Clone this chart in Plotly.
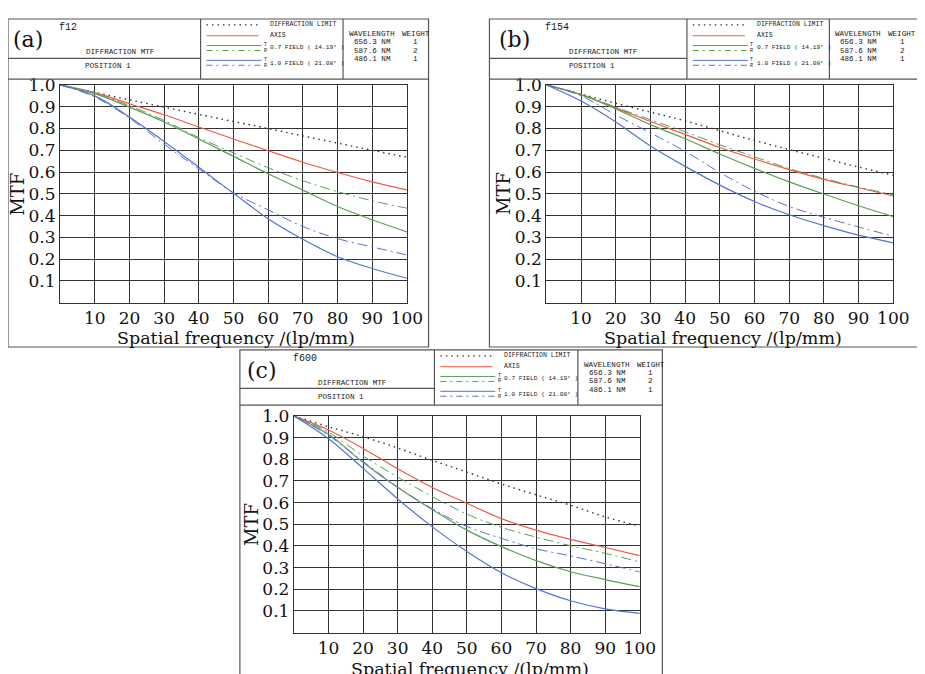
import plotly.graph_objects as go

# ---------------- data ----------------
freq = [0, 10, 20, 30, 40, 50, 60, 70, 80, 90, 100]

# panel (a) f12
a_diff = [1.0, 0.966, 0.932, 0.898, 0.865, 0.832, 0.800, 0.766, 0.733, 0.700, 0.668]
a_axis = [1.0, 0.965, 0.914, 0.863, 0.807, 0.752, 0.698, 0.645, 0.598, 0.555, 0.518]
a_07T = [1.0, 0.960, 0.898, 0.830, 0.752, 0.672, 0.592, 0.517, 0.442, 0.381, 0.325]
a_07S = [1.0, 0.962, 0.905, 0.837, 0.758, 0.688, 0.620, 0.560, 0.510, 0.468, 0.434]
a_10T = [1.0, 0.950, 0.853, 0.740, 0.622, 0.502, 0.386, 0.291, 0.211, 0.157, 0.112]
a_10S = [1.0, 0.945, 0.848, 0.728, 0.615, 0.505, 0.426, 0.350, 0.294, 0.256, 0.219]

# panel (b) f154
b_diff = [1.0, 0.958, 0.916, 0.875, 0.835, 0.790, 0.745, 0.703, 0.663, 0.623, 0.585]
b_axis = [1.0, 0.955, 0.895, 0.832, 0.773, 0.713, 0.660, 0.611, 0.566, 0.528, 0.490]
b_07T = [1.0, 0.955, 0.890, 0.818, 0.753, 0.683, 0.617, 0.555, 0.499, 0.445, 0.395]
b_07S = [1.0, 0.958, 0.898, 0.840, 0.785, 0.725, 0.670, 0.616, 0.571, 0.531, 0.496]
b_10T = [1.0, 0.926, 0.830, 0.720, 0.626, 0.540, 0.465, 0.404, 0.354, 0.310, 0.275]
b_10S = [1.0, 0.950, 0.862, 0.780, 0.695, 0.598, 0.512, 0.442, 0.392, 0.348, 0.305]

# panel (c) f600
c_diff = [1.0, 0.950, 0.904, 0.852, 0.795, 0.741, 0.686, 0.636, 0.588, 0.534, 0.491]
c_axis = [1.0, 0.935, 0.850, 0.756, 0.670, 0.597, 0.526, 0.473, 0.430, 0.393, 0.355]
c_07T = [1.0, 0.915, 0.785, 0.670, 0.568, 0.473, 0.397, 0.332, 0.281, 0.245, 0.212]
c_07S = [1.0, 0.925, 0.815, 0.718, 0.628, 0.547, 0.486, 0.441, 0.401, 0.366, 0.326]
c_10T = [1.0, 0.895, 0.758, 0.617, 0.488, 0.374, 0.276, 0.203, 0.147, 0.110, 0.089]
c_10S = [1.0, 0.910, 0.790, 0.672, 0.572, 0.490, 0.435, 0.387, 0.354, 0.318, 0.280]

x_ticks = [10, 20, 30, 40, 50, 60, 70, 80, 90, 100]
y_ticks = [0.1, 0.2, 0.3, 0.4, 0.5, 0.6, 0.7, 0.8, 0.9, 1.0]
y_ticktext = ["0.1", "0.2", "0.3", "0.4", "0.5", "0.6", "0.7", "0.8", "0.9", "1.0"]

panel_labels = ["(a)", "(b)", "(c)"]
lens_names = ["f12", "f154", "f600"]
wavelengths = ["656.3 NM", "587.6 NM", "486.1 NM"]
weights = ["1", "2", "1"]
series_names = ["DIFFRACTION LIMIT", "AXIS", "0.7 FIELD T", "0.7 FIELD R", "1.0 FIELD T", "1.0 FIELD R"]

panel_data = [
    [a_diff, a_axis, a_07T, a_07S, a_10T, a_10S],
    [b_diff, b_axis, b_07T, b_07S, b_10T, b_10S],
    [c_diff, c_axis, c_07T, c_07S, c_10T, c_10S],
]

# ---------------- styling ----------------
OFF = 8                     # default page body margin
W, H = 925 - OFF, 674 - OFF
RED = "#f25a45"
GREEN = "#5c9e5c"
BLUE = "#5672d8"
DOT = "#333333"
DOTDASH = "1.5px,4px"
DASHDOT = "10px,4px,2px,4px"
styles = [
    dict(color=DOT, width=1.4, dash=DOTDASH),
    dict(color=RED, width=1.2, dash="solid"),
    dict(color=GREEN, width=1.2, dash="solid"),
    dict(color=GREEN, width=1.0, dash=DASHDOT),
    dict(color=BLUE, width=1.2, dash="solid"),
    dict(color=BLUE, width=1.0, dash=DASHDOT),
]

SERIF = "DejaVu Serif"
MONO = "Liberation Mono"

# panel geometry (pixels in the browser window): plot area and box
panels = [
    dict(px0=61, px1=414, py0=76, py1=297, bx0=8, bx1=436, by0=9, by1=342, hb=70, hm=49,
         d1=204, d2=349, tgap=36, tsize=17.5),
    dict(px0=556, px1=909, py0=76, py1=297, bx0=498, bx1=940, by0=9, by1=342, hb=70, hm=49,
         d1=699, d2=844, tgap=36, tsize=17.5),
    dict(px0=299, px1=651, py0=412, py1=632, bx0=244, bx1=674, by0=345, by1=700, hb=401, hm=384,
         d1=442, d2=588, tgap=37, tsize=17.5),
]


def fx(px):
    return (px - OFF) / W


def fy(py):
    return 1 - (py - OFF) / H


fig = go.Figure()
shapes = []
annotations = []


def ann(text, x, y, size=7.5, family=MONO, xanchor="left", color="#1a1a1a", **kw):
    annotations.append(dict(text=text, x=fx(x), y=fy(y), xref="paper", yref="paper",
                            showarrow=False, xanchor=xanchor, yanchor="middle",
                            font=dict(family=family, size=size, color=color), **kw))


def hline(x0, x1, y, **line):
    shapes.append(dict(type="line", xref="paper", yref="paper", x0=fx(x0), x1=fx(x1),
                       y0=fy(y), y1=fy(y), line=line))


for i, p in enumerate(panels):
    xa = "x" if i == 0 else f"x{i+1}"
    ya = "y" if i == 0 else f"y{i+1}"
    for k, ys in enumerate(panel_data[i]):
        fig.add_trace(go.Scatter(x=freq, y=ys, mode="lines", line=styles[k],
                                 xaxis=xa, yaxis=ya, showlegend=False,
                                 name=series_names[k], line_shape="spline"))
    axis_common = dict(showline=True, mirror=True, linecolor="#333333", linewidth=1.3,
                       showgrid=True, gridcolor="#333333", gridwidth=1.2, zeroline=False,
                       ticks="", tickfont=dict(family=SERIF, size=17, color="#111111"))
    xkey = "xaxis" if i == 0 else f"xaxis{i+1}"
    ykey = "yaxis" if i == 0 else f"yaxis{i+1}"
    fig.update_layout({
        xkey: dict(domain=[fx(p["px0"]), fx(p["px1"])], range=[0, 100], tickvals=x_ticks,
                   anchor=ya, **axis_common),
        ykey: dict(domain=[fy(p["py1"]), fy(p["py0"])], range=[0, 1], tickvals=y_ticks,
                   ticktext=y_ticktext, anchor=xa, **axis_common),
    })

    # outer box and header table
    line_k = dict(color="#555555", width=1.2)
    shapes.append(dict(type="rect", xref="paper", yref="paper", x0=fx(p["bx0"]), x1=fx(p["bx1"]),
                       y0=fy(p["by1"]), y1=fy(p["by0"]), line=line_k, layer="below"))
    hline(p["bx0"], p["bx1"], p["hb"], **line_k)
    for d in (p["d1"], p["d2"]):
        shapes.append(dict(type="line", xref="paper", yref="paper", x0=fx(d), x1=fx(d),
                           y0=fy(p["by0"]), y1=fy(p["hb"]), line=line_k))
    hline(p["bx0"], p["d1"], p["hm"], **line_k)

    by0 = p["by0"]
    bx0 = p["bx0"]
    d1 = p["d1"]
    d2 = p["d2"]

    left = p["px0"] - 53
    ann(panel_labels[i], left + 3, by0 + 21, size=22, family=SERIF, color="#111111")
    ann(lens_names[i], left + 50, by0 + 9, size=10)
    ann("DIFFRACTION MTF", (bx0 + d1) / 2 + 16, by0 + 34, size=7.6, xanchor="center")
    ann("POSITION 1", (bx0 + d1) / 2 + 4, by0 + 48, size=7.6, xanchor="center")

    # legend key lines
    lx0, lx1 = d1 + 6, d1 + 59
    hline(lx0, lx1, by0 + 6, color=DOT, width=1.3, dash="1.5px,4px")
    hline(lx0, lx1, by0 + 17, color=RED, width=1)
    for yy, c, dsh in [(27, GREEN, "solid"), (32, GREEN, "6px,4px,2px,4px"),
                       (42, BLUE, "solid"), (47, BLUE, "6px,4px,2px,4px")]:
        hline(lx0, lx1 + 3, by0 + yy, color=c, width=1, dash=dsh)
    tx = d1 + 69
    ann("DIFFRACTION LIMIT", tx, by0 + 6, size=6.5)
    ann("AXIS", tx, by0 + 17, size=6.5)
    ann("0.7 FIELD ( 14.19° )", tx, by0 + 29, size=6.2)
    ann("1.0 FIELD ( 21.08° )", tx, by0 + 45, size=6.2)
    for yy in (26, 42):
        ann("T", d1 + 62.5, by0 + yy, size=5)
    for yy in (32, 48):
        ann("R", d1 + 62.5, by0 + yy, size=5)

    # wavelength table
    ann("WAVELENGTH", d2 + 4, by0 + 15, size=7.6)
    ann("WEIGHT", d2 + 58, by0 + 15, size=7.6)
    for r in range(3):
        ann(wavelengths[r], d2 + 9, by0 + 23 + r * 9, size=7.6)
        ann(weights[r], d2 + 74, by0 + 23 + r * 9, size=7.6, xanchor="center")

    # axis titles
    ann("Spatial frequency /(lp/mm)", (p["px0"] + p["px1"]) / 2 + 3, p["py1"] + p["tgap"],
        size=p["tsize"], family=SERIF, xanchor="center", color="#111111")
    ann("MTF", p["px0"] - 43, (p["py0"] + p["py1"]) / 2, size=18, family=SERIF,
        xanchor="center", color="#111111", textangle=-90)

fig.update_layout(width=W, height=H, autosize=False, margin=dict(l=0, r=0, t=0, b=0),
                  paper_bgcolor="white", plot_bgcolor="white", shapes=shapes,
                  annotations=annotations, showlegend=False)

fig.write_html("out.html")
